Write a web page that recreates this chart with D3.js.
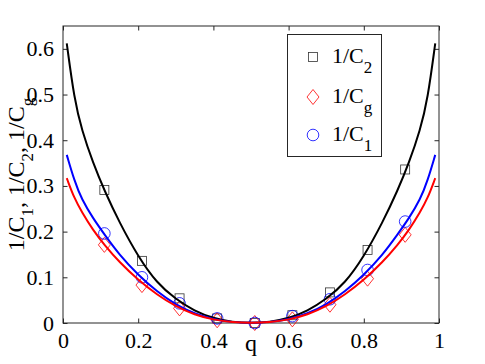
<!DOCTYPE html>
<html>
<head>
<meta charset="utf-8">
<script src="https://cdn.jsdelivr.net/npm/d3@7"></script>
<style>
  body { margin: 0; background: #fff; }
  svg { font-family: "Liberation Serif", "Times New Roman", serif; }
</style>
</head>
<body>
<div id="chart"></div>
<script>
// marker data (q, 1/C)
const markerQ = [0.11, 0.21, 0.31, 0.41, 0.51, 0.61, 0.71, 0.81, 0.91];
const markC2 = [0.291, 0.136, 0.054, 0.010, 0, 0.017, 0.067, 0.160, 0.336];
const markCg = [0.171, 0.083, 0.032, 0.006, 0, 0.008, 0.040, 0.097, 0.193];
const markC1 = [0.196, 0.100, 0.043, 0.010, 0, 0.015, 0.052, 0.116, 0.222];

// fitted curves
const curveQ = [0.01, 0.03, 0.05, 0.08, 0.11, 0.15, 0.2, 0.25, 0.3, 0.35, 0.4, 0.45, 0.5,
                0.55, 0.6, 0.65, 0.7, 0.75, 0.8, 0.85, 0.89, 0.92, 0.95, 0.97, 0.99];
const curveC2 = [0.612, 0.49, 0.422, 0.35, 0.29, 0.22, 0.145, 0.087, 0.052, 0.026, 0.010, 0.002, 0,
                 0.002, 0.010, 0.026, 0.052, 0.087, 0.145, 0.22, 0.29, 0.35, 0.422, 0.49, 0.612];
const curveC1 = [0.368, 0.312, 0.27, 0.229, 0.194, 0.149, 0.105, 0.069, 0.040, 0.020, 0.008, 0.0017, 0,
                 0.0017, 0.008, 0.020, 0.040, 0.069, 0.105, 0.149, 0.194, 0.229, 0.27, 0.312, 0.368];
const curveCg = [0.317, 0.273, 0.243, 0.203, 0.171, 0.133, 0.094, 0.062, 0.036, 0.018, 0.007, 0.0015, 0,
                 0.0015, 0.007, 0.018, 0.036, 0.062, 0.094, 0.133, 0.171, 0.203, 0.243, 0.273, 0.317];

const xTicks = [0, 0.2, 0.4, 0.6, 0.8, 1];
const yTicks = [0, 0.1, 0.2, 0.3, 0.4, 0.5, 0.6];

const width = 485, height = 364;
const margin = {left: 63, right: 46, top: 26, bottom: 41};
const axisColor = '#262626';
const serif = '"Liberation Serif", "Times New Roman", serif';

const svg = d3.select('#chart').append('svg')
    .attr('width', width)
    .attr('height', height);

const x = d3.scaleLinear().domain([0, 1]).range([margin.left, width - margin.right]);
const y = d3.scaleLinear().domain([0, 0.65]).range([height - margin.bottom, margin.top]);

// box
svg.append('rect')
    .attr('x', x(0)).attr('y', y(0.65))
    .attr('width', x(1) - x(0)).attr('height', y(0) - y(0.65))
    .attr('fill', 'none').attr('stroke', axisColor).attr('stroke-width', 1);

// axes with inward ticks
const fmt = d => d === 0 ? '0' : d === 1 ? '1' : d3.format('.1f')(d);
const styleAxis = g => {
    g.attr('font-family', serif);
    g.select('.domain').remove();
    g.selectAll('line').attr('stroke', axisColor);
    g.selectAll('text').attr('fill', '#000').style('font-size', '22px').style('font-family', serif);
};

svg.append('g')
    .attr('transform', `translate(0,${y(0)})`)
    .call(d3.axisBottom(x).tickValues(xTicks).tickFormat(fmt).tickSizeInner(-4.5).tickPadding(9))
    .call(styleAxis);
svg.append('g')
    .attr('transform', `translate(0,${y(0.65)})`)
    .call(d3.axisTop(x).tickValues(xTicks).tickFormat('').tickSizeInner(-4.5))
    .call(styleAxis);
svg.append('g')
    .attr('transform', `translate(${x(0)},0)`)
    .call(d3.axisLeft(y).tickValues(yTicks).tickFormat(fmt).tickSizeInner(-4.5).tickPadding(9))
    .call(styleAxis);
svg.append('g')
    .attr('transform', `translate(${x(1)},0)`)
    .call(d3.axisRight(y).tickValues(yTicks).tickFormat('').tickSizeInner(-4.5))
    .call(styleAxis);

// axis labels
svg.append('text')
    .attr('x', (x(0) + x(1)) / 2).attr('y', 351)
    .attr('text-anchor', 'middle')
    .style('font-size', '24px')
    .text('q');

const ylab = svg.append('text')
    .attr('transform', `translate(24,${(y(0) + y(0.65)) / 2}) rotate(-90)`)
    .attr('text-anchor', 'middle')
    .style('font-size', '24px');
const ylabParts = [['1/C', '1'], [', 1/C', '2'], [', 1/C', 'g']];
ylabParts.forEach(([main, sub], i) => {
    ylab.append('tspan').attr('dy', i === 0 ? 0 : -9).text(main);
    ylab.append('tspan').attr('dy', 9).style('font-size', '17px').text(sub);
});

// markers
const squareSize = 9, circleR = 5.8;
const drawSquare = (g, cx, cy) => g.append('rect')
    .attr('x', cx - squareSize / 2).attr('y', cy - squareSize / 2)
    .attr('width', squareSize).attr('height', squareSize)
    .attr('fill', 'none').attr('stroke', '#333').attr('stroke-width', 0.8);
const drawDiamond = (g, cx, cy) => g.append('path')
    .attr('d', `M${cx},${cy - 7.5}L${cx + 6},${cy}L${cx},${cy + 7.5}L${cx - 6},${cy}Z`)
    .attr('fill', 'none').attr('stroke', '#f00').attr('stroke-width', 0.8);
const drawCircle = (g, cx, cy) => g.append('circle')
    .attr('cx', cx).attr('cy', cy).attr('r', circleR)
    .attr('fill', 'none').attr('stroke', '#00f').attr('stroke-width', 0.8);

const marks = svg.append('g');
markerQ.forEach((q, i) => drawSquare(marks, x(q), y(markC2[i])));
markerQ.forEach((q, i) => drawDiamond(marks, x(q), y(markCg[i])));
markerQ.forEach((q, i) => drawCircle(marks, x(q), y(markC1[i])));

// curves
const line = d3.line()
    .x(d => x(d[0]))
    .y(d => y(d[1]))
    .curve(d3.curveBasis);

[[curveC2, '#000'], [curveC1, '#00f'], [curveCg, '#f00']].forEach(([vals, color]) => {
    svg.append('path')
        .datum(curveQ.map((q, i) => [q, vals[i]]))
        .attr('d', line)
        .attr('fill', 'none')
        .attr('stroke', color)
        .attr('stroke-width', 2);
});

// legend
const legend = svg.append('g');
legend.append('rect')
    .attr('x', 287.5).attr('y', 34.5).attr('width', 94).attr('height', 122)
    .attr('fill', '#fff').attr('stroke', axisColor).attr('stroke-width', 1);

const legendItems = [
    {draw: drawSquare, sub: '2', cy: 57},
    {draw: drawDiamond, sub: 'g', cy: 97},
    {draw: drawCircle, sub: '1', cy: 135}
];
legendItems.forEach(d => {
    d.draw(legend, 313, d.cy);
    const t = legend.append('text')
        .attr('x', 332).attr('y', d.cy + 5.5)
        .style('font-size', '22px');
    t.append('tspan').text('1/C');
    t.append('tspan').attr('dy', 10).style('font-size', '17px').text(d.sub);
});
</script>
</body>
</html>
